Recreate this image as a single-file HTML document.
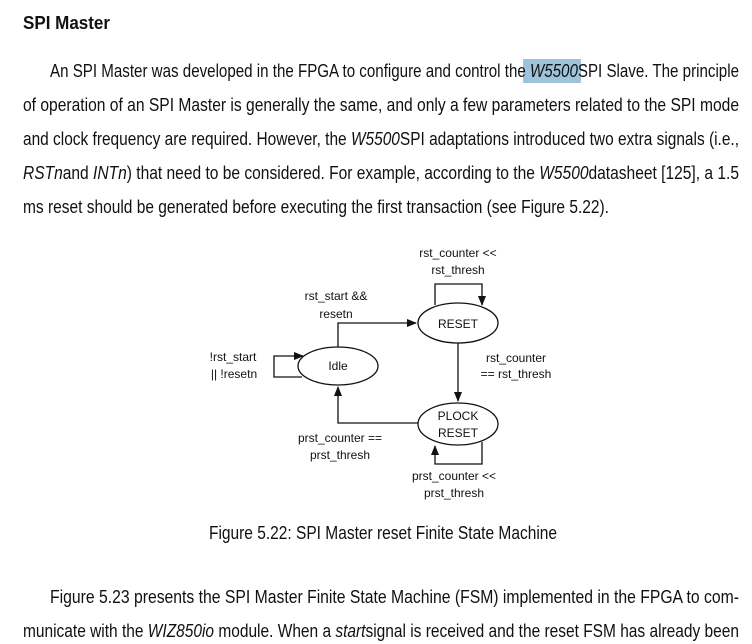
<!DOCTYPE html>
<html><head><meta charset="utf-8"><style>
html,body{margin:0;padding:0;background:#fff;}
svg{display:block;}
.t{font-family:"Liberation Sans Narrow","Liberation Sans",sans-serif;font-size:18px;fill:#111;}
.d{font-family:"Liberation Sans",sans-serif;font-size:12px;fill:#111;}
</style></head><body>
<svg width="752" height="644" viewBox="0 0 752 644" xmlns="http://www.w3.org/2000/svg">
<defs><marker id="a" markerWidth="10" markerHeight="8" refX="9" refY="4" orient="auto" markerUnits="userSpaceOnUse"><path d="M0,0 L10,4 L0,8 z" fill="#111"/></marker></defs>
<text x="23" y="29" class="t" style="font-weight:bold" textLength="87" lengthAdjust="spacingAndGlyphs">SPI Master</text>
<rect x="523" y="59" width="58" height="24" fill="#9ec3dc"/>
<text x="50" y="77" class="t" textLength="689" lengthAdjust="spacingAndGlyphs">An SPI Master was developed in the FPGA to configure and control the <tspan font-style="italic">W5500</tspan>SPI Slave.  The principle</text>
<text x="23" y="111" class="t" textLength="716" lengthAdjust="spacingAndGlyphs">of operation of an SPI Master is generally the same, and only a few parameters related to the SPI mode</text>
<text x="23" y="145" class="t" textLength="716" lengthAdjust="spacingAndGlyphs">and clock frequency are required.  However, the <tspan font-style="italic">W5500</tspan>SPI adaptations introduced two extra signals (i.e.,</text>
<text x="23" y="179" class="t" textLength="716" lengthAdjust="spacingAndGlyphs"><tspan font-style="italic">RSTn</tspan>and <tspan font-style="italic">INTn</tspan>) that need to be considered.  For example, according to the <tspan font-style="italic">W5500</tspan>datasheet [125], a 1.5</text>
<text x="23" y="213" class="t" textLength="586" lengthAdjust="spacingAndGlyphs">ms reset should be generated before executing the first transaction (see Figure 5.22).</text>

<g fill="none" stroke="#111" stroke-width="1.3">
<ellipse cx="338" cy="366" rx="40" ry="19"/>
<ellipse cx="458" cy="323" rx="40" ry="20"/>
<ellipse cx="458" cy="424" rx="40" ry="21"/>
<path d="M338,347 V323 H416" marker-end="url(#a)"/>
<path d="M435,305 V284 H482 V305" marker-end="url(#a)"/>
<path d="M458,343 V401" marker-end="url(#a)"/>
<path d="M418,423 H338 V387" marker-end="url(#a)"/>
<path d="M482,442 V464 H435 V446" marker-end="url(#a)"/>
<path d="M302,377 H274 V356 H303" marker-end="url(#a)"/>
</g>
<g class="d" text-anchor="middle">
<text x="458" y="257">rst_counter &lt;&lt;</text>
<text x="458" y="274">rst_thresh</text>
<text x="336" y="300">rst_start &amp;&amp;</text>
<text x="336" y="318">resetn</text>
<text x="458" y="328">RESET</text>
<text x="338" y="370">Idle</text>
<text x="233" y="361">!rst_start</text>
<text x="234" y="378">|| !resetn</text>
<text x="516" y="362">rst_counter</text>
<text x="516" y="378">== rst_thresh</text>
<text x="458" y="420">PLOCK</text>
<text x="458" y="437">RESET</text>
<text x="340" y="442">prst_counter ==</text>
<text x="340" y="459">prst_thresh</text>
<text x="454" y="480">prst_counter &lt;&lt;</text>
<text x="454" y="497">prst_thresh</text>
</g>

<text x="209" y="539" class="t" textLength="348" lengthAdjust="spacingAndGlyphs">Figure 5.22: SPI Master reset Finite State Machine</text>
<text x="50" y="603" class="t" textLength="689" lengthAdjust="spacingAndGlyphs">Figure 5.23 presents the SPI Master Finite State Machine (FSM) implemented in the FPGA to com-</text>
<text x="23" y="637" class="t" textLength="716" lengthAdjust="spacingAndGlyphs">municate with the <tspan font-style="italic">WIZ850io</tspan> module.  When a <tspan font-style="italic">start</tspan>signal is received and the reset FSM has already been</text>
</svg>
</body></html>
